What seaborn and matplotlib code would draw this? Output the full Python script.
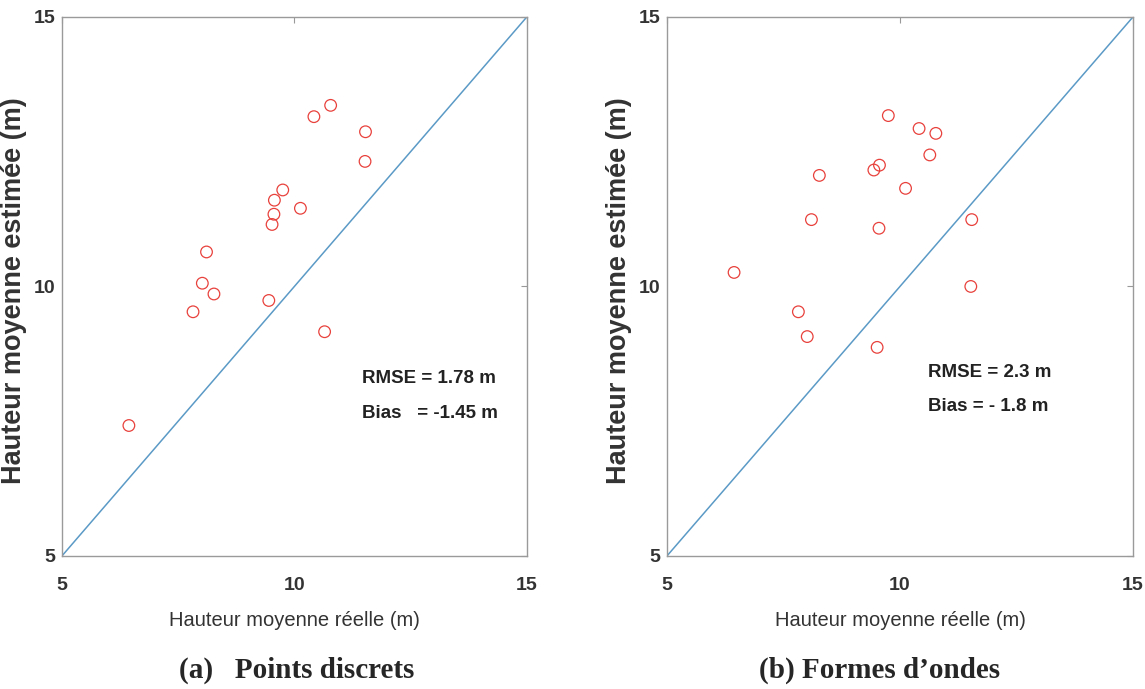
import numpy as np
import pandas as pd
import matplotlib
matplotlib.use("Agg")
import matplotlib.pyplot as plt
import seaborn as sns

# Valeurs (hauteur réelle vs estimée, m)
reel_a = [6.44, 7.82, 8.02, 8.11, 8.27, 9.45, 9.52, 9.56, 9.57, 9.75, 10.13, 10.42, 10.78, 10.65, 11.53, 11.52]
estime_a = [7.42, 9.53, 10.06, 10.64, 9.86, 9.74, 11.15, 11.34, 11.60, 11.79, 11.45, 13.15, 13.36, 9.16, 12.87, 12.32]

reel_b = [6.44, 7.82, 8.01, 8.10, 8.27, 9.44, 9.56, 9.55, 9.51, 9.75, 10.12, 10.41, 10.64, 10.77, 11.54, 11.52]
estime_b = [10.26, 9.53, 9.07, 11.24, 12.06, 12.16, 12.25, 11.08, 8.87, 13.17, 11.82, 12.93, 12.44, 12.84, 11.24, 10.00]

limites = [5, 15]
graduations = [5, 10, 15]
stats_a = ["RMSE = 1.78 m", "Bias   = -1.45 m"]
stats_b = ["RMSE = 2.3 m", "Bias = - 1.8 m"]
legendes = ["(a)   Points discrets", "(b) Formes d\u2019ondes"]

sns.set_style("white")
plt.rcParams["font.family"] = ["Liberation Sans", "DejaVu Sans"]

fig = plt.figure(figsize=(11.45, 6.89), dpi=100)
ax_a = fig.add_axes([0.0541, 0.1931, 0.406, 0.7823])
ax_b = fig.add_axes([0.5825, 0.1931, 0.407, 0.7823])


def panneau(ax, reel, estime, stats, pos_txt):
    df = pd.DataFrame({"reel": reel, "estime": estime})
    sns.lineplot(x=limites, y=limites, ax=ax, color="#5b9ac6", linewidth=1.1)
    sns.scatterplot(data=df, x="reel", y="estime", ax=ax, marker="o", s=70,
                    facecolors="none", edgecolors="#e8413c", linewidth=0.9)
    ax.set_xlim(limites)
    ax.set_ylim(limites)
    ax.set_xticks(graduations)
    ax.set_yticks(graduations)
    ax.tick_params(direction="in", length=4, top=True, right=True, color="#999999",
                   labelsize=14, labelcolor="#333333")
    ax.tick_params(axis="x", pad=15)
    ax.tick_params(axis="y", pad=5)
    for lab in ax.get_xticklabels() + ax.get_yticklabels():
        lab.set_fontweight("bold")
    for sp in ax.spines.values():
        sp.set_color("#9a9a9a")
        sp.set_linewidth(1.0)
    ax.set_xlabel("Hauteur moyenne réelle (m)", fontsize=14.5, color="#333333")
    ax.xaxis.set_label_coords(0.5, -0.103)
    ax.set_ylabel("Hauteur moyenne estimée (m)", fontsize=19.5, fontweight="bold", color="#333333")
    ax.yaxis.set_label_coords(-0.076, 0.493)
    x0, y1, y2 = pos_txt
    ax.text(x0, y1, stats[0], fontsize=13.5, fontweight="bold", color="#222222", va="center")
    ax.text(x0, y2, stats[1], fontsize=13.5, fontweight="bold", color="#222222", va="center")


panneau(ax_a, reel_a, estime_a, stats_a, (11.45, 8.30, 7.65))
panneau(ax_b, reel_b, estime_b, stats_b, (10.6, 8.40, 7.78))

fig.text(0.259, 0.027, legendes[0], fontsize=21, fontweight="bold", ha="center", va="center",
         family=["Liberation Serif", "DejaVu Serif"])
fig.text(0.7686, 0.027, legendes[1], fontsize=21, fontweight="bold", ha="center", va="center",
         family=["Liberation Serif", "DejaVu Serif"])

fig.savefig("out.png", dpi=100)
